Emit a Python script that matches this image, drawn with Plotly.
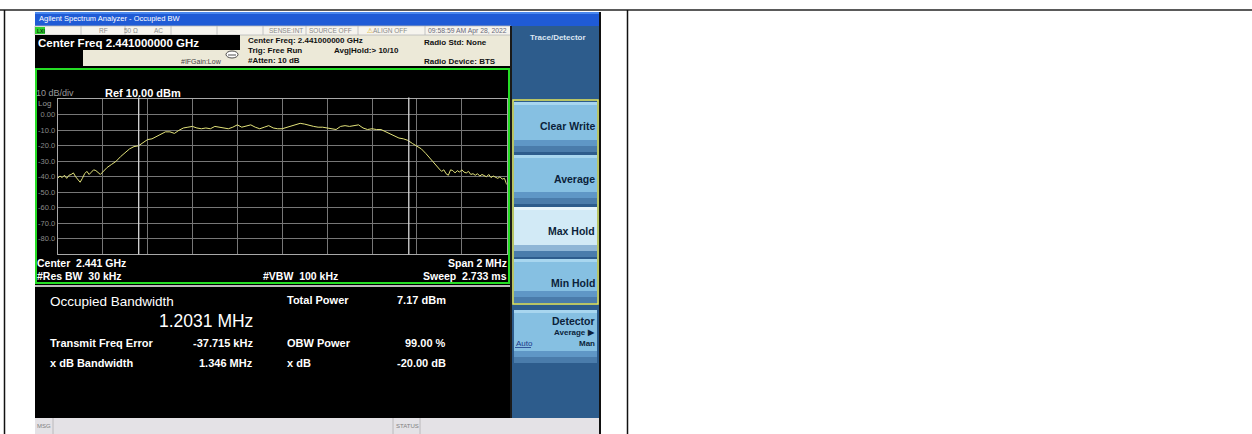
import plotly.graph_objects as go

W, H = 1252, 434

# ---------------- data ----------------
center_ghz = 2.441
span_mhz = 2.0
# sweep sample points (MHz offset from center): finer in the noisy skirts
freq_offset_mhz = ([round(-1.0 + 0.01 * i, 2) for i in range(23)]
                   + [round(-0.76 + 0.02 * i, 2) for i in range(73)]
                   + [round(0.70 + 0.01 * i, 2) for i in range(31)])
level_dbm = [
    # left skirt  -1.00 .. -0.78 (0.01 steps)
    -41, -39.5, -40.5, -39, -41, -39, -38.5, -37.5, -40, -41.5,
    -43.5, -41, -38, -36.5, -38.5, -37, -35.5, -36, -37.5, -38.5,
    -37, -35.5, -34,
    # -0.76 .. 0.68 (0.02 steps)
    -32, -30, -27, -24.5, -22, -20.5, -20, -18,
    -16, -15.5, -14, -12.5, -11, -11, -12, -10, -8.5, -8,
    -7.5, -8.5, -9, -8.5, -9, -7.5, -8, -8.5, -9, -8,
    -6.5, -8, -7, -6.5, -8, -9, -8, -7, -8.5, -9,
    -9, -8, -7, -6, -5.5, -6, -7, -7.5, -8, -8,
    -8.5, -9, -9.5, -7.5, -7, -7.5, -7, -6.5, -8.5, -9.5,
    -9, -9.5, -9.5, -11, -12.5, -14, -15, -15.5, -16.5, -18.5,
    -20, -22, -25, -28.5, -32,
    # right skirt 0.70 .. 1.00 (0.01 steps)
    -35, -36.5, -35.5, -38, -39, -35.5, -36, -37.5, -36, -37,
    -35.5, -37, -37.5, -36.5, -38.5, -38, -39, -38, -39.5, -38.5,
    -39, -40, -38.5, -40.5, -39.5, -40.5, -41, -40, -41.5, -41,
    -45,
]
ref_level = 10.0
db_per_div = 10
y_tick_vals = [10, 0, -10, -20, -30, -40, -50, -60, -70, -80, -90]
y_tick_text = ["", "0.00", "-10.0", "-20.0", "-30.0", "-40.0", "-50.0", "-60.0", "-70.0", "-80.0", ""]
x_tick_vals = [-1.0, -0.8, -0.6, -0.4, -0.2, 0.0, 0.2, 0.4, 0.6, 0.8, 1.0]

obw_mhz = 1.2031
freq_error_khz = -37.715
xdb_bw_mhz = 1.346
total_power_dbm = 7.17
obw_power_pct = 99.00
x_db = -20.00

softkeys = ["Clear Write", "Average", "Max Hold", "Min Hold"]

# ---------------- helpers ----------------
FONT = "Liberation Sans, Arial, sans-serif"
shapes = []
annotations = []


def px(x):
    return x / W


def py(y):
    return 1 - y / H


def rect(x0, y0, x1, y1, fill=None, line=None, lw=0, layer="below"):
    shapes.append(dict(type="rect", xref="paper", yref="paper",
                       x0=px(x0), x1=px(x1), y0=py(y1), y1=py(y0),
                       fillcolor=fill if fill else "rgba(0,0,0,0)",
                       line=dict(color=line if line else "rgba(0,0,0,0)", width=lw),
                       layer=layer))


def hline(x0, x1, y, color, lw=1, layer="below"):
    shapes.append(dict(type="line", xref="paper", yref="paper",
                       x0=px(x0), x1=px(x1), y0=py(y), y1=py(y),
                       line=dict(color=color, width=lw), layer=layer))


def vline(x, y0, y1, color, lw=1, layer="below"):
    shapes.append(dict(type="line", xref="paper", yref="paper",
                       x0=px(x), x1=px(x), y0=py(y0), y1=py(y1),
                       line=dict(color=color, width=lw), layer=layer))


def txt(x, y, s, size, color, bold=False, anchor="left", family=FONT):
    annotations.append(dict(x=px(x), y=py(y), xref="paper", yref="paper",
                            text=f"<b>{s}</b>" if bold else s, showarrow=False,
                            xanchor=anchor, yanchor="middle", borderpad=0,
                            font=dict(size=size, color=color, family=family)))


# ---------------- document table lines ----------------
hline(0, W, 10, "#5a5a5a", 2)
vline(4.5, 10, H, "#111111", 1.5)
vline(627.5, 10, H, "#111111", 1.5)

# ---------------- window title bar ----------------
rect(35, 12, 600, 26, "#1f5bd6")
rect(35, 12, 600, 14, "#4a88ee")
txt(38, 19, "Agilent Spectrum Analyzer - Occupied BW", 7.5, "white")

# ---------------- header ----------------
rect(35, 26, 511, 68, "#ece9d8")
rect(35, 26, 511, 35, "#f6f4ee", "#b8b8b8", 0.8)
for sx in [81, 125, 171, 217, 263, 306, 358, 425]:
    vline(sx, 26, 35, "#b8b8b8", 0.8)
rect(35, 27, 45, 34, "#2fd12f")
txt(35.5, 30.5, "LXI", 5, "#0a3a0a", bold=True)
txt(103, 30.5, "RF", 6.5, "#8a8a8a", anchor="center")
txt(131, 30.5, "50 Ω", 6.5, "#8a8a8a", anchor="center")
txt(158, 30.5, "AC", 6.5, "#8a8a8a", anchor="center")
txt(304, 30.5, "SENSE:INT", 6.5, "#8a8a8a", anchor="right")
txt(308, 30.5, "SOURCE OFF", 6.5, "#8a8a8a")
txt(366, 30.5, "<span style='color:#d8a800'>⚠</span>ALIGN OFF", 6.5, "#8a8a8a")
txt(427, 30.5, "09:58:59 AM Apr 28, 2022", 6.8, "#6a6a7a")

rect(35, 35, 240, 50, "#000000")
txt(37, 43, f"Center Freq {center_ghz:.9f} GHz", 11.5, "white", bold=True)
rect(35, 50, 83, 66, "#000000")
txt(180, 61, "#IFGain:Low", 7, "#444444")
shapes.append(dict(type="circle", xref="paper", yref="paper",
                   x0=px(226), x1=px(238), y0=py(58), y1=py(51),
                   fillcolor="white", line=dict(color="#222", width=0.8)))
hline(228, 236, 55, "#222", 0.8, layer="above")
txt(247, 41, f"Center Freq: {center_ghz:.9f} GHz", 8, "#111111", bold=True)
txt(247, 51, "Trig: Free Run", 8, "#111111", bold=True)
txt(333, 51, "Avg|Hold:&gt; 10/10", 8, "#111111", bold=True)
txt(247, 60, "#Atten: 10 dB", 8, "#111111", bold=True)
txt(423, 42, "Radio Std: None", 8, "#111111", bold=True)
txt(423, 61, "Radio Device: BTS", 8, "#111111", bold=True)

# ---------------- screen ----------------
rect(35, 66, 511, 418, "#000000")
rect(36, 69, 509, 283, None, "#25dd25", 2, layer="above")
hline(35, 510, 286, "#bdbdbd", 2)

txt(35, 93.5, "10 dB/div", 9, "#9a9a9a")
txt(104, 93, f"Ref {ref_level:.2f} dBm", 11, "white", bold=True)
txt(37, 104, "Log", 8, "#9a9a9a")

txt(36, 263, f"Center&nbsp;&nbsp;{center_ghz:.3f} GHz", 10.5, "white", bold=True)
txt(36, 275.5, "#Res BW&nbsp;&nbsp;30 kHz", 10.5, "white", bold=True)
txt(262, 275.5, "#VBW&nbsp;&nbsp;100 kHz", 10.5, "white", bold=True)
txt(508, 263, f"Span {span_mhz:.0f} MHz", 10.5, "white", bold=True, anchor="right")
txt(508, 275.5, "Sweep&nbsp;&nbsp;2.733 ms", 10.5, "white", bold=True, anchor="right")

# measurement results
txt(49, 301, "Occupied Bandwidth", 13.5, "white")
txt(254, 321, f"{obw_mhz:.4f} MHz", 17.5, "white", anchor="right")
txt(286, 300, "Total Power", 11, "white", bold=True)
txt(447, 300, f"{total_power_dbm:.2f} dBm", 11, "white", bold=True, anchor="right")
txt(49, 343, "Transmit Freq Error", 11, "white", bold=True)
txt(254, 343, f"{freq_error_khz:.3f} kHz", 11, "white", bold=True, anchor="right")
txt(286, 343, "OBW Power", 11, "white", bold=True)
txt(447, 343, f"{obw_power_pct:.2f} %", 11, "white", bold=True, anchor="right")
txt(49, 363, "x dB Bandwidth", 11, "white", bold=True)
txt(254, 363, f"{xdb_bw_mhz:.3f} MHz", 11, "white", bold=True, anchor="right")
txt(286, 363, "x dB", 11, "white", bold=True)
txt(447, 363, f"{x_db:.2f} dB", 11, "white", bold=True, anchor="right")

# status bar
rect(35, 418, 600, 434, "#e4e2e6")
vline(53, 418, 434, "#b0b0b0", 0.8)
vline(393, 418, 434, "#b0b0b0", 0.8)
vline(420, 418, 434, "#b0b0b0", 0.8)
txt(36, 425.5, "MSG", 6, "#808080")
txt(395, 425.5, "STATUS", 6, "#808080")

# ---------------- softkey panel ----------------
rect(511, 26, 600, 418, "#2d5c8c")
vline(511, 26, 418, "#1a1a1a", 2)
vline(600, 12, H, "#111111", 2)
txt(558, 37, "Trace/Detector", 8, "#dce6f2", bold=True, anchor="center")

btn_y = [(102, 152), (155, 204), (207, 257), (259, 303)]
for (y0, y1), label in zip(btn_y, softkeys):
    pale = label == "Max Hold"
    rect(514, y0, 597, y1, "#d2eaf6" if pale else "#86c0e2")
    rect(514, y0, 597, y0 + 3, "#e6f4fb" if pale else "#a8d6ef")
    rect(514, y1 - 12, 597, y1 - 6, "#8fb6d6" if pale else "#5f97c6")
    rect(514, y1 - 6, 597, y1, "#4a7cab")
    txt(596, y0 + 24, label, 10.5, "#0b1f3a", bold=True, anchor="right")
rect(513, 100, 598, 304, None, "#e6e65a", 1.5, layer="above")

rect(514, 310, 597, 363, "#86c0e2")
rect(514, 310, 597, 313, "#a8d6ef")
rect(514, 351, 597, 357, "#5f97c6")
rect(514, 357, 597, 363, "#4a7cab")
txt(596, 321, "Detector", 10.5, "#0b1f3a", bold=True, anchor="right")
txt(596, 332, "Average ▶", 8, "#0b1f3a", bold=True, anchor="right")
txt(515, 343, "Auto", 8, "#1a3a8a")
hline(515, 531, 347.5, "#1a3a8a", 0.8, layer="above")
txt(596, 343, "Man", 8, "#0b1f3a", bold=True, anchor="right")

# ---------------- OBW marker lines (from measurement values) ----------------
obw_left = freq_error_khz / 1000 - obw_mhz / 2
obw_right = freq_error_khz / 1000 + obw_mhz / 2
for fx in (obw_left, obw_right):
    shapes.append(dict(type="line", xref="x", yref="paper",
                       x0=fx, x1=fx, y0=py(254.3), y1=py(97.5),
                       line=dict(color="#d8d8d8", width=1.3), layer="above"))

# ---------------- figure ----------------
fig = go.Figure()
fig.add_trace(go.Scatter(x=freq_offset_mhz, y=level_dbm, mode="lines",
                         line=dict(color="#e2e27a", width=1), hoverinfo="skip",
                         showlegend=False))

fig.update_layout(
    width=W, height=H, autosize=False,
    margin=dict(l=0, r=0, t=0, b=0, pad=0),
    paper_bgcolor="white", plot_bgcolor="black",
    shapes=shapes, annotations=annotations, showlegend=False,
    xaxis=dict(domain=[px(57.7), px(506.7)], range=[-span_mhz / 2, span_mhz / 2],
               tickvals=x_tick_vals, showticklabels=False, ticks="",
               showgrid=True, gridcolor="#777777", gridwidth=1, zeroline=False,
               showline=True, linecolor="#a8a8a8", linewidth=1, mirror=True),
    yaxis=dict(domain=[py(254.3), py(99.3)], range=[ref_level - 10 * db_per_div, ref_level],
               tickvals=y_tick_vals, ticktext=y_tick_text, ticks="",
               tickfont=dict(size=7.5, color="#8a8a8a", family=FONT),
               showgrid=True, gridcolor="#777777", gridwidth=1, zeroline=False,
               showline=True, linecolor="#a8a8a8", linewidth=1, mirror=True),
)

fig.write_html("out.html")
